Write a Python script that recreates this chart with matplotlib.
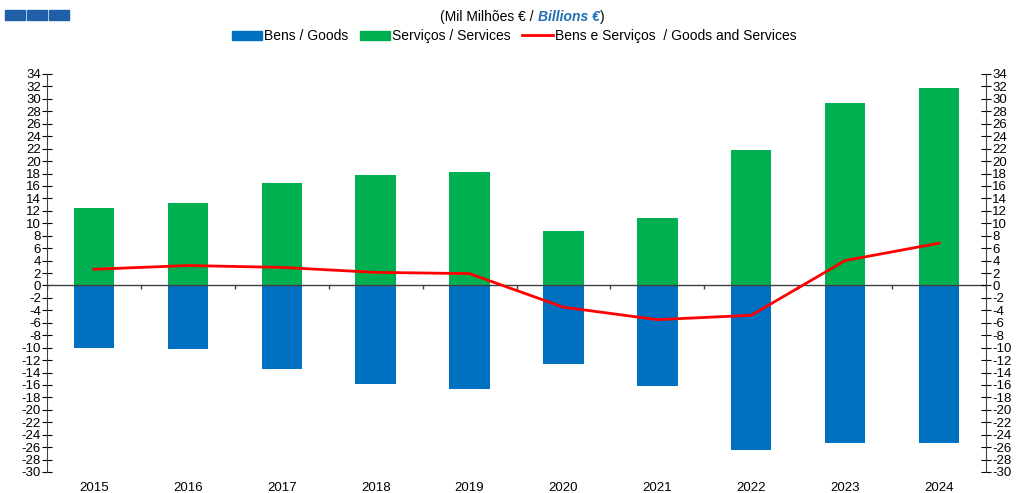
import matplotlib.pyplot as plt
import matplotlib.patches as mpatches
from matplotlib.lines import Line2D
import numpy as np

plt.rcParams['font.family'] = ['Liberation Sans', 'DejaVu Sans']

# Dados (mil milhões de euros)
anos = ['2015', '2016', '2017', '2018', '2019', '2020', '2021', '2022', '2023', '2024']
bens = [-10.0, -10.3, -13.5, -15.8, -16.6, -12.7, -16.1, -26.5, -25.4, -25.4]
servicos = [12.4, 13.2, 16.4, 17.8, 18.2, 8.8, 10.8, 21.7, 29.3, 31.8]
total = [2.6, 3.2, 2.9, 2.1, 1.9, -3.5, -5.5, -4.8, 4.0, 6.8]

azul = '#0070C0'
verde = '#00B050'
vermelho = '#FF0000'

fig = plt.figure(figsize=(10.19, 4.93), dpi=100)
ax = fig.add_axes([47 / 1019, 21 / 493, 939 / 1019, 398 / 493])

x = np.arange(len(anos))
ax.bar(x, servicos, width=0.43, color=verde, zorder=2)
ax.bar(x, bens, width=0.43, color=azul, zorder=2)
ax.plot(x, total, color=vermelho, linewidth=2, zorder=4)

# linha do zero com marcas entre categorias
ax.axhline(0, color='#404040', linewidth=1, zorder=3)
ax.vlines(np.arange(len(anos) + 1) - 0.5, -0.5, 0, color='#404040', linewidth=1, zorder=3)

ax.set_xlim(-0.5, len(anos) - 0.5)
ax.set_ylim(-30, 34)
yt = np.arange(-30, 35, 2)
ax.set_yticks(yt)
ax.set_yticklabels([str(v) for v in yt])
ax.set_xticks(x)
ax.set_xticklabels(anos)
ax.tick_params(axis='x', length=0, labelsize=9.5, pad=7)
ax.tick_params(axis='y', direction='inout', length=7, labelsize=9.5, pad=1)

for s in ['top', 'right', 'bottom']:
    ax.spines[s].set_visible(False)
ax.spines['left'].set_color('#404040')

ax2 = ax.twinx()
ax2.set_ylim(-30, 34)
ax2.set_yticks(yt)
ax2.set_yticklabels([str(v) for v in yt])
ax2.tick_params(axis='y', direction='inout', length=7, labelsize=9.5, pad=1)
for s in ['top', 'left', 'bottom']:
    ax2.spines[s].set_visible(False)
ax2.spines['right'].set_color('#404040')

# título (partes encadeadas)
r = fig.canvas.get_renderer()
ty = 1 - 17 / 493
t1 = fig.text(440 / 1019, ty, '(Mil Milhões € / ', ha='left', va='center', fontsize=10)
x1 = t1.get_window_extent(r).x1 / fig.bbox.width
t2 = fig.text(x1, ty, 'Billions €', ha='left', va='center', fontsize=10,
              color='#1F6FB5', fontweight='bold', fontstyle='italic')
x2 = t2.get_window_extent(r).x1 / fig.bbox.width
fig.text(x2 + 1 / 1019, ty, ')', ha='left', va='center', fontsize=10)

# legenda
handles = [mpatches.Patch(color=azul, label='Bens / Goods'),
           mpatches.Patch(color=verde, label='Serviços / Services'),
           Line2D([], [], color=vermelho, linewidth=2, label='Bens e Serviços  / Goods and Services')]
fig.legend(handles=handles, loc='center', bbox_to_anchor=(514 / 1019, 1 - 36 / 493), ncol=3,
           frameon=False, fontsize=10, handlelength=2.2, handleheight=0.6, handletextpad=0.15,
           columnspacing=0.8)

# logótipo
for i in range(3):
    fig.patches.append(mpatches.Rectangle(((5 + i * 22) / 1019, 1 - 20 / 493), 20 / 1019, 10 / 493,
                                          transform=fig.transFigure, color='#1F5FA8'))

plt.savefig('out.png', dpi=100)
